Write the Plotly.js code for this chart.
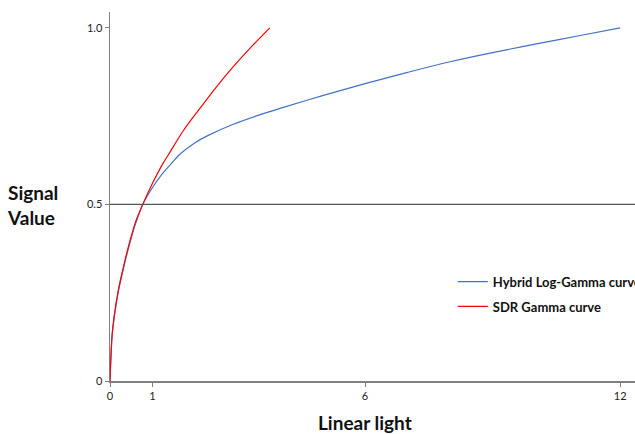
<!DOCTYPE html>
<html>
<head>
<meta charset="utf-8">
<script src="https://cdn.plot.ly/plotly-3.0.1.min.js"></script>
<style>html,body{margin:0;padding:0;background:#fff;}#chart{width:635px;height:434px;}</style>
</head>
<body>
<div id="chart"></div>
<script>
// Hybrid Log-Gamma curve
const hlgX = [0, 0.05, 0.1, 0.2, 0.3, 0.4, 0.5, 0.6, 0.77, 1.0, 1.18, 1.4, 1.65, 2.0, 2.3, 2.9, 3.5, 4.0, 5.0, 6.0, 7.0, 8.0, 9.0, 10.0, 11.0, 12.0];
const hlgY = [0, 0.13, 0.18, 0.255, 0.31, 0.36, 0.405, 0.445, 0.5, 0.548, 0.579, 0.61, 0.643, 0.675, 0.695, 0.727, 0.753, 0.772, 0.808, 0.842, 0.874, 0.904, 0.93, 0.954, 0.977, 1.0];
// SDR Gamma curve
const sdrX = [0, 0.05, 0.1, 0.2, 0.3, 0.4, 0.5, 0.6, 0.77, 1.0, 1.25, 1.37, 1.72, 2.12, 2.51, 2.9, 3.29, 3.76];
const sdrY = [0, 0.13, 0.185, 0.26, 0.315, 0.365, 0.41, 0.45, 0.5, 0.56, 0.617, 0.64, 0.708, 0.773, 0.834, 0.89, 0.942, 1.0];
const xTicks = [0, 1, 6, 12];
const xTickText = ['0', '1', '6', '12'];
const yTicks = [0, 0.5, 1.0];
const yTickText = ['0', '0.5', '1.0'];
const refLevel = 0.5;

const font = 'Lato, "Open Sans", "DejaVu Sans", sans-serif';

const traces = [
  {x: hlgX, y: hlgY, type: 'scatter', mode: 'lines', name: 'Hybrid Log-Gamma curve',
   line: {color: '#4472C4', width: 1.2, shape: 'spline'}, legendgroup: 'a'},
  {x: sdrX, y: sdrY, type: 'scatter', mode: 'lines', name: 'SDR Gamma curve',
   line: {color: '#FF0000', width: 1.2, shape: 'spline'}, legendgroup: 'b'}
];

const layout = {
  width: 635, height: 434,
  margin: {l: 110, r: 0, t: 12, b: 53, pad: 0, autoexpand: false},
  paper_bgcolor: '#ffffff', plot_bgcolor: '#ffffff',
  font: {family: font, color: '#222', size: 11},
  xaxis: {range: [0, 12.35], tickvals: xTicks, ticktext: xTickText, automargin: false,
    showgrid: false, zeroline: false, showline: true, linecolor: '#7f7f7f', linewidth: 1.5,
    ticks: 'outside', ticklen: 4, tickcolor: '#7f7f7f', tickfont: {size: 11, color: '#222'}, fixedrange: true},
  yaxis: {range: [0, 1.045], tickvals: yTicks, ticktext: yTickText, automargin: false,
    showgrid: false, zeroline: false, showline: true, linecolor: '#7f7f7f', linewidth: 1.5,
    ticks: 'outside', ticklen: 4, tickcolor: '#7f7f7f', tickfont: {size: 11, color: '#222'}, fixedrange: true},
  shapes: [{type: 'line', xref: 'paper', x0: 0, x1: 1, yref: 'y', y0: refLevel, y1: refLevel,
    line: {color: '#555', width: 1.2}}],
  showlegend: true,
  legend: {x: 0.653, y: 0.31, xanchor: 'left', yanchor: 'top', bgcolor: 'rgba(0,0,0,0)',
    font: {family: font, size: 13, color: '#111', weight: 'bold'}, traceorder: 'grouped', tracegroupgap: 5,
    itemwidth: 30},
  annotations: [
    {text: '<b>Signal<br>Value</b>', xref: 'paper', yref: 'paper', x: -0.2, y: 0.477,
     xanchor: 'left', yanchor: 'middle', align: 'left', showarrow: false,
     font: {family: font, size: 19, color: '#111'}},
    {text: '<b>Linear light</b>', xref: 'paper', yref: 'paper', x: 0.486, y: -0.113,
     xanchor: 'center', yanchor: 'middle', showarrow: false,
     font: {family: font, size: 19, color: '#111'}}
  ]
};

Plotly.newPlot('chart', traces, layout, {displayModeBar: false, staticPlot: true});
</script>
</body>
</html>
